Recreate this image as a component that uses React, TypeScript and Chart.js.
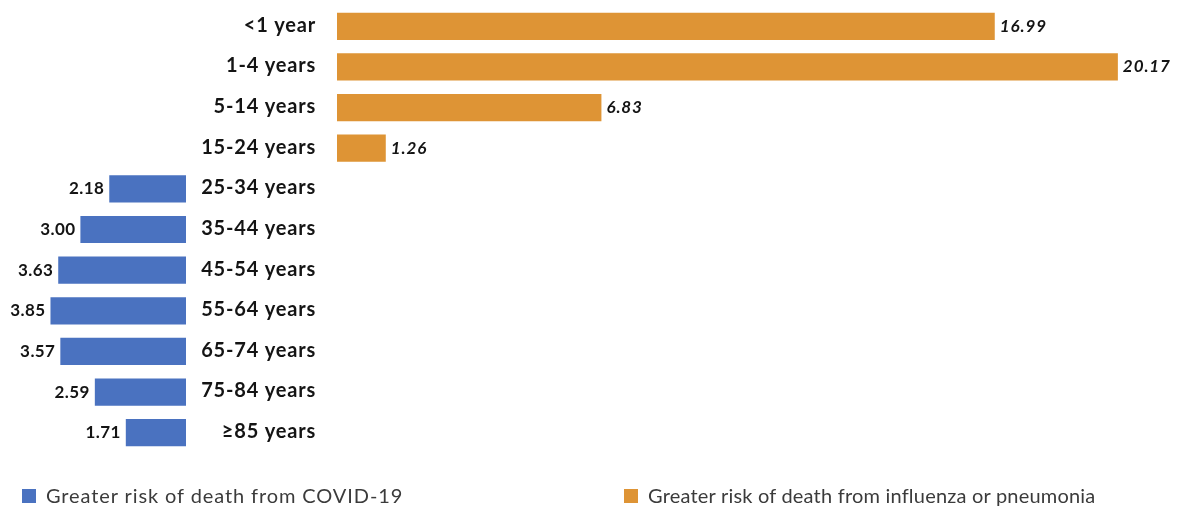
import { useEffect, useRef } from 'react';
import { Chart, registerables } from 'chart.js';

Chart.register(...registerables);

// Age groups, top to bottom
const ageGroups = [
  '<1 year',
  '1-4 years',
  '5-14 years',
  '15-24 years',
  '25-34 years',
  '35-44 years',
  '45-54 years',
  '55-64 years',
  '65-74 years',
  '75-84 years',
  '≥85 years',
];

// Relative risk where COVID-19 is the greater cause of death
const covidRisk: (number | null)[] = [null, null, null, null, 2.18, 3.0, 3.63, 3.85, 3.57, 2.59, 1.71];
// Relative risk where influenza or pneumonia is the greater cause of death
const fluRisk: (number | null)[] = [16.99, 20.17, 6.83, 1.26, null, null, null, null, null, null, null];

const covidLabel = 'Greater risk of death from COVID-19';
const fluLabel = 'Greater risk of death from influenza or pneumonia';

const covidColor = '#4A72C0';
const fluColor = '#DE9435';
const textColor = '#141414';
const legendColor = '#3b3b3b';
const fontFamily = 'Lato, "Noto Sans", sans-serif';

// Draws the age-group names in the middle gap and the value next to each bar
const rowLabelsPlugin = {
  id: 'rowLabels',
  afterDatasetsDraw(chart: any) {
    const ctx: CanvasRenderingContext2D = chart.ctx;
    const yScale = chart.scales.y;
    const gap = chart.scales.xGap;
    ctx.save();
    ctx.fillStyle = textColor;
    ctx.textBaseline = 'middle';

    ctx.font = `bold 20px ${fontFamily}`;
    (ctx as any).letterSpacing = '0.8px';
    ctx.textAlign = 'right';
    ageGroups.forEach((name, i) => {
      ctx.fillText(name, gap.right - 21, yScale.getPixelForValue(i) - 1);
    });

    chart.data.datasets.forEach((ds: any, di: number) => {
      const meta = chart.getDatasetMeta(di);
      const isCovid = ds.xAxisID === 'xCovid';
      meta.data.forEach((bar: any, i: number) => {
        const v = ds.data[i];
        if (v == null) return;
        const text = Number(v).toFixed(2);
        if (isCovid) {
          ctx.font = `bold 17px ${fontFamily}`;
          (ctx as any).letterSpacing = '0.4px';
          ctx.textAlign = 'right';
          ctx.fillText(text, bar.x - 5, bar.y);
        } else {
          ctx.font = `italic bold 17px ${fontFamily}`;
          (ctx as any).letterSpacing = '0.9px';
          ctx.textAlign = 'left';
          ctx.fillText(text, bar.x + 5, bar.y);
        }
      });
    });
    ctx.restore();
  },
};

export default function App() {
  const canvasRef = useRef<HTMLCanvasElement | null>(null);

  useEffect(() => {
    if (!canvasRef.current) return;
    const chart = new Chart(canvasRef.current, {
      type: 'bar',
      data: {
        labels: ageGroups,
        datasets: [
          {
            label: covidLabel,
            data: covidRisk,
            xAxisID: 'xCovid',
            backgroundColor: covidColor,
            grouped: false,
            barPercentage: 0.67,
            categoryPercentage: 1,
          } as any,
          {
            label: fluLabel,
            data: fluRisk,
            xAxisID: 'xFlu',
            backgroundColor: fluColor,
            grouped: false,
            barPercentage: 0.67,
            categoryPercentage: 1,
          } as any,
        ],
      },
      options: {
        indexAxis: 'y',
        animation: false,
        responsive: true,
        maintainAspectRatio: false,
        layout: { padding: { left: 10, right: 27, top: 6, bottom: 53 } },
        plugins: {
          legend: { display: false },
          tooltip: { enabled: false },
        },
        scales: {
          // COVID-19 half grows leftwards from the label gap
          xCovid: {
            type: 'linear',
            position: 'bottom',
            stack: 'halves',
            stackWeight: 176,
            min: 0,
            max: 5,
            reverse: true,
            display: false,
          },
          // Empty band that holds the age-group names
          xGap: {
            type: 'linear',
            position: 'bottom',
            stack: 'halves',
            stackWeight: 151,
            min: 0,
            max: 1,
            display: false,
          },
          // Influenza / pneumonia half grows rightwards
          xFlu: {
            type: 'linear',
            position: 'bottom',
            stack: 'halves',
            stackWeight: 813,
            min: 0,
            max: 21,
            display: false,
          },
          y: {
            type: 'category',
            display: false,
          },
        },
      } as any,
      plugins: [rowLabelsPlugin],
    });
    return () => chart.destroy();
  }, []);

  const legendText = (left: number, spacing: number): React.CSSProperties => ({
    position: 'absolute',
    left,
    top: 484,
    fontFamily,
    fontSize: 20,
    lineHeight: '22px',
    color: legendColor,
    letterSpacing: `${spacing}px`,
    whiteSpace: 'nowrap',
  });
  const swatch = (color: string, left: number): React.CSSProperties => ({
    position: 'absolute',
    left,
    top: 489,
    width: 14,
    height: 14,
    background: color,
  });

  return (
    <div style={{ position: 'fixed', left: 0, top: 0, width: 1177, height: 506, background: '#fff' }}>
      <canvas ref={canvasRef} />
      <div style={swatch(covidColor, 22)} />
      <div style={legendText(46, 0.9)}>{covidLabel}</div>
      <div style={swatch(fluColor, 624)} />
      <div style={legendText(648, 0.2)}>{fluLabel}</div>
    </div>
  );
}
